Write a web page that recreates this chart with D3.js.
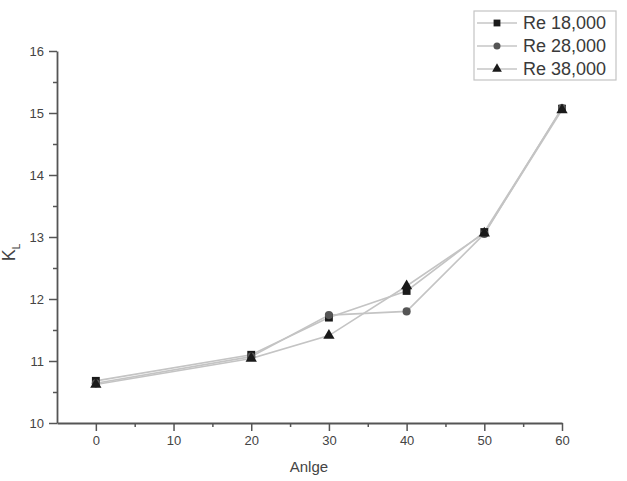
<!DOCTYPE html>
<html>
<head>
<meta charset="utf-8">
<script src="https://cdn.jsdelivr.net/npm/d3@7"></script>
<style>
  body { margin: 0; background: #fff; }
  text { font-family: "Liberation Sans", Arial, sans-serif; }
</style>
</head>
<body>
<svg id="chart"></svg>
<script>
//data
var angles = [0, 20, 30, 40, 50, 60];
var re18 = [10.68, 11.10, 11.70, 12.13, 13.08, 15.07];
var re28 = [10.64, 11.07, 11.74, 11.80, 13.05, 15.08];
var re38 = [10.62, 11.04, 11.41, 12.21, 13.06, 15.05];
var seriesNames = ["Re 18,000", "Re 28,000", "Re 38,000"];
var xTicks = [0, 10, 20, 30, 40, 50, 60];
var yTicks = [10, 11, 12, 13, 14, 15, 16];

var margin = {top: 51, right: 65, bottom: 58, left: 57},
    width = 627 - margin.left - margin.right,
    height = 481 - margin.top - margin.bottom;

var svgtop = d3.select("#chart")
	.attr("width", 627)
	.attr("height", 481);

var svg = svgtop.append("g")
	.attr("transform", "translate(" + margin.left + "," + margin.top + ")");

var xScale = d3.scaleLinear().domain([-5, 60]).range([0, width]);
var yScale = d3.scaleLinear().domain([10, 16]).range([height, 0]);

var axisColor = "#555";

//minor ticks
svg.append("g")
	.attr("class", "xminor")
	.attr("transform", "translate(0," + height + ")")
	.call(d3.axisBottom(xScale).tickValues(d3.range(5, 60, 10)).tickSize(4).tickFormat(""));
svg.append("g")
	.attr("class", "yminor")
	.call(d3.axisLeft(yScale).tickValues(d3.range(10.5, 16, 1)).tickSize(4).tickFormat(""));

//major axes
svg.append("g")
	.attr("class", "xaxis")
	.attr("transform", "translate(0," + height + ")")
	.call(d3.axisBottom(xScale).tickValues(xTicks).tickFormat(d3.format("d"))
		.tickSize(8).tickSizeOuter(0).tickPadding(5));
svg.append("g")
	.attr("class", "yaxis")
	.call(d3.axisLeft(yScale).tickValues(yTicks).tickFormat(d3.format("d"))
		.tickSize(8).tickSizeOuter(0).tickPadding(5));

svg.selectAll(".xaxis path, .yaxis path").attr("stroke", axisColor).attr("stroke-width", 1.8);
svg.selectAll(".xminor path, .yminor path").remove();
svg.selectAll(".tick line").attr("stroke", axisColor).attr("stroke-width", 1.5);
svg.selectAll(".xaxis text, .yaxis text")
	.attr("fill", "#444")
	.style("font-size", "13px");

//axis labels
svg.append("text")
	.attr("x", xScale(30) - 20)
	.attr("y", height + 49)
	.style("text-anchor", "middle")
	.style("font-size", "15px")
	.attr("fill", "#444")
	.text("Anlge");

var ylab = svg.append("text")
	.attr("transform", "translate(" + (-42) + "," + yScale(12.75) + ") rotate(-90)")
	.style("text-anchor", "middle")
	.style("font-size", "18px")
	.attr("fill", "#444");
ylab.append("tspan").text("K");
ylab.append("tspan").attr("dy", 5).style("font-size", "10px").text("L");

//lines and markers
var allSeries = [re18, re28, re38];
var symbols = [d3.symbolSquare, d3.symbolCircle, d3.symbolTriangle];
var markColor = ["#1a1a1a", "#555", "#1a1a1a"];
var symSize = [62, 52, 55];

var line = d3.line()
	.x(function(d, i) { return xScale(angles[i]); })
	.y(function(d) { return yScale(d); });

allSeries.forEach(function(s) {
	svg.append("path")
		.datum(s)
		.attr("fill", "none")
		.attr("stroke", "#c4c4c4")
		.attr("stroke-width", 1.6)
		.attr("d", line);
});

allSeries.forEach(function(s, k) {
	svg.selectAll(".m" + k)
		.data(s)
		.enter()
		.append("path")
		.attr("class", "m" + k)
		.attr("transform", function(d, i) { return "translate(" + xScale(angles[i]) + "," + yScale(d) + ")"; })
		.attr("d", d3.symbol().type(symbols[k]).size(symSize[k]))
		.attr("fill", markColor[k]);
});

//legend
var leg = svgtop.append("g").attr("transform", "translate(474,11)");
leg.append("rect")
	.attr("width", 142)
	.attr("height", 69)
	.attr("fill", "#fff")
	.attr("stroke", "#c4c4c4")
	.attr("stroke-width", 1.2);

seriesNames.forEach(function(name, k) {
	var yy = 12 + k * 23;
	leg.append("line")
		.attr("x1", 3).attr("x2", 43)
		.attr("y1", yy).attr("y2", yy)
		.attr("stroke", "#aaa")
		.attr("stroke-width", 1.2);
	leg.append("path")
		.attr("transform", "translate(23," + yy + ")")
		.attr("d", d3.symbol().type(symbols[k]).size(symSize[k] * 0.75))
		.attr("fill", markColor[k]);
	leg.append("text")
		.attr("x", 49)
		.attr("y", yy)
		.attr("dy", "0.36em")
		.style("font-size", "18px")
		.attr("fill", "#3a3a3a")
		.text(name);
});
</script>
</body>
</html>
